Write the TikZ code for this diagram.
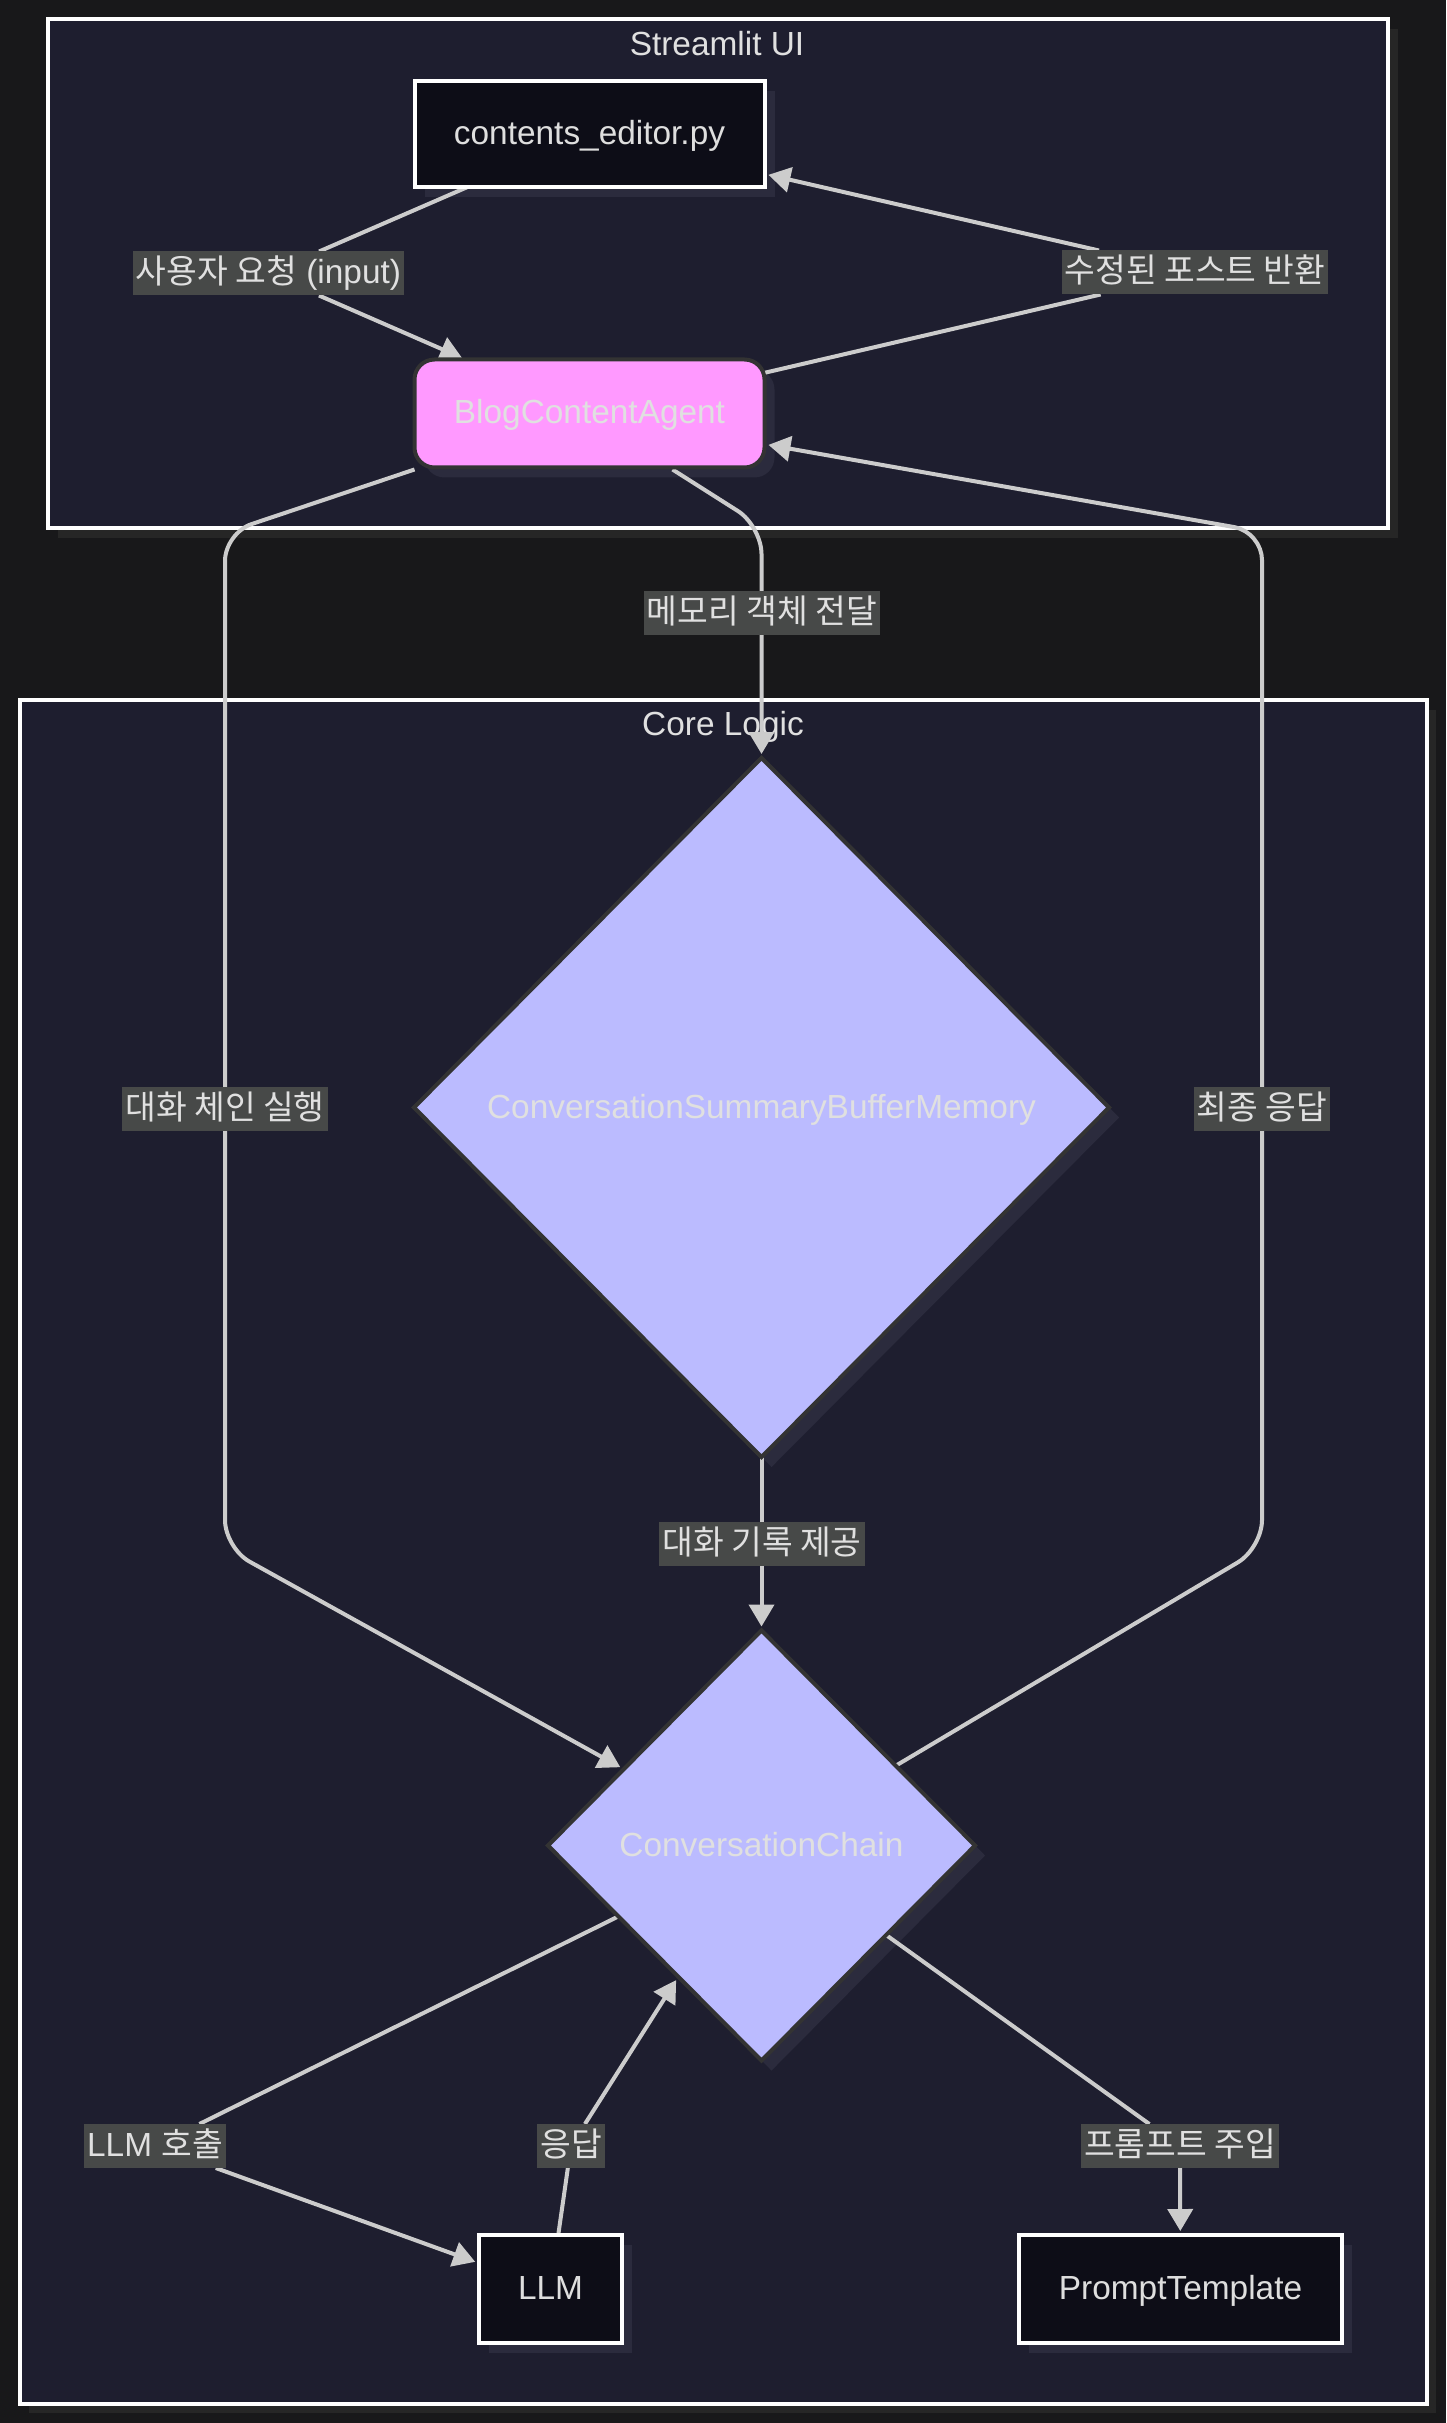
\documentclass[tikz,border=0pt]{standalone}
\usepackage{fontspec}
\setmainfont{Liberation Sans}
\newfontfamily\kr{Noto Sans CJK KR}
\usetikzlibrary{shapes.geometric,arrows.meta,calc}
\definecolor{bgc}{HTML}{18181A}
\definecolor{clc}{HTML}{1E1E2F}
\definecolor{clsh}{HTML}{262626}
\definecolor{ndsh}{HTML}{2B2B3D}
\definecolor{darkn}{HTML}{0D0D17}
\definecolor{pinkn}{HTML}{FF99FF}
\definecolor{lavn}{HTML}{BBBBFF}
\definecolor{edgec}{HTML}{CCCCCC}
\definecolor{lblbg}{HTML}{474948}
\definecolor{txtc}{HTML}{E0E0E0}
\definecolor{strk}{HTML}{333333}
\pgfdeclarelayer{bg}
\pgfdeclarelayer{shadows}
\pgfdeclarelayer{edges}
\pgfsetlayers{bg,shadows,edges,main}
\begin{document}
\begin{tikzpicture}[x=0.5pt,y=-0.5pt,
  font=\fontsize{16.7pt}{20pt}\selectfont,
  every node/.style={text height=12.5pt, text depth=2pt, outer sep=0pt, inner sep=0pt},
  cluster/.style={draw=white, line width=2pt, fill=clc},
  darkbox/.style={rectangle, draw=white, line width=2pt, fill=darkn, text=txtc!105},
  agentbox/.style={rectangle, rounded corners=10pt, draw=strk, line width=2pt, fill=pinkn, text=txtc},
  decision/.style={diamond, aspect=1, draw=strk, line width=2pt, fill=lavn, text=txtc},
  lbl/.style={fill=lblbg, text=txtc, inner xsep=1.5pt, minimum height=22pt, text height=13pt, text depth=2.5pt},
  title/.style={text=txtc, anchor=base},
  edge/.style={draw=edgec, line width=2pt, -{Triangle[length=11pt,width=12.5pt]}, shorten >=2pt},
  plain/.style={draw=edgec, line width=2pt}
]
\useasboundingbox (0,0) rectangle (1446,2423);

% nodes
\node[darkbox, minimum width=175pt, minimum height=53pt] (editor) at (589.5,134) {contents\_editor.py};
\node[agentbox, minimum width=175pt, minimum height=54pt] (agent) at (589.5,413.5) {BlogContentAgent};
\node[decision, minimum width=347.5pt, minimum height=349.5pt] (memory) at (761.5,1107.5) {ConversationSummaryBufferMemory};
\node[decision, minimum width=213.5pt, minimum height=215pt] (chain) at (761.5,1845.5) {ConversationChain};
\node[darkbox, minimum width=71.5pt, minimum height=54pt] (llm) at (550.5,2289) {LLM};
\node[darkbox, minimum width=161.5pt, minimum height=54pt] (prompt) at (1180.5,2289) {PromptTemplate};

% labels
\node[lbl] (l1) at (268.5,273.5) {{\kr 사용자 요청} (input)};
\node[lbl] (l2) at (1195,272.5) {\kr 수정된 포스트 반환};
\node[lbl] (l3) at (762,613) {\kr 메모리 객체 전달};
\node[lbl] (l4) at (225,1109) {\kr 대화 체인 실행};
\node[lbl] (l5) at (1262,1109) {\kr 최종 응답};
\node[lbl] (l6) at (762,1544) {\kr 대화 기록 제공};
\node[lbl] (l7) at (155,2146) {LLM {\kr 호출}};
\node[lbl] (l8) at (571,2146) {\kr 응답};
\node[lbl] (l9) at (1180,2146) {\kr 프롬프트 주입};

\begin{pgfonlayer}{bg}
  \fill[bgc] (0,0) rectangle (1446,2423);
  \fill[clsh] (58,29) rectangle (1398,538);
  \path[cluster] (48,19) rectangle (1388,528);
  \node[title] (t1) at (717,56) {Streamlit UI};
  \fill[clsh] (29,710) rectangle (1436,2413);
  \path[cluster] (19.5,700) rectangle (1426.5,2403.5);
  \node[title] (t2) at (723,735) {Core Logic};
\end{pgfonlayer}

\begin{pgfonlayer}{shadows}
  \fill[ndsh] ($(editor.north west)+(10,10)$) rectangle ($(editor.south east)+(10,10)$);
  \fill[ndsh, rounded corners=10pt] ($(agent.north west)+(10,10)$) rectangle ($(agent.south east)+(10,10)$);
  \fill[ndsh] ($(memory.north)+(10,10)$) -- ($(memory.east)+(10,10)$) -- ($(memory.south)+(10,10)$) -- ($(memory.west)+(10,10)$) -- cycle;
  \fill[ndsh] ($(chain.north)+(10,10)$) -- ($(chain.east)+(10,10)$) -- ($(chain.south)+(10,10)$) -- ($(chain.west)+(10,10)$) -- cycle;
  \fill[ndsh] ($(llm.north west)+(10,10)$) rectangle ($(llm.south east)+(10,10)$);
  \fill[ndsh] ($(prompt.north west)+(10,10)$) rectangle ($(prompt.south east)+(10,10)$);
\end{pgfonlayer}

\begin{pgfonlayer}{edges}
  \draw[plain] (editor) -- (l1);
  \draw[edge] (l1) -- (agent);
  \draw[plain] (agent) -- (l2);
  \draw[edge] (l2) -- (editor);
  \draw[edge, rounded corners=14pt] ($(agent.south)+(83,2)$) -- (761.5,526) -- (memory.north);
  \draw[edge, rounded corners=14pt] ($(agent.south west)+(0,2)$) -- (225,533) -- (225,1548) -- (chain);
  \draw[edge, rounded corners=14pt] (chain) -- (1262,1548) -- (1262,532) -- (agent);
  \draw[edge] (memory) -- (chain);
  \draw[plain] (chain) -- (l7);
  \draw[edge] (l7) -- (llm);
  \draw[plain] (llm) -- (l8);
  \draw[edge] (l8) -- (chain);
  \draw[plain] (chain) -- (l9);
  \draw[edge] (l9) -- (prompt);
\end{pgfonlayer}
\end{tikzpicture}
\end{document}
